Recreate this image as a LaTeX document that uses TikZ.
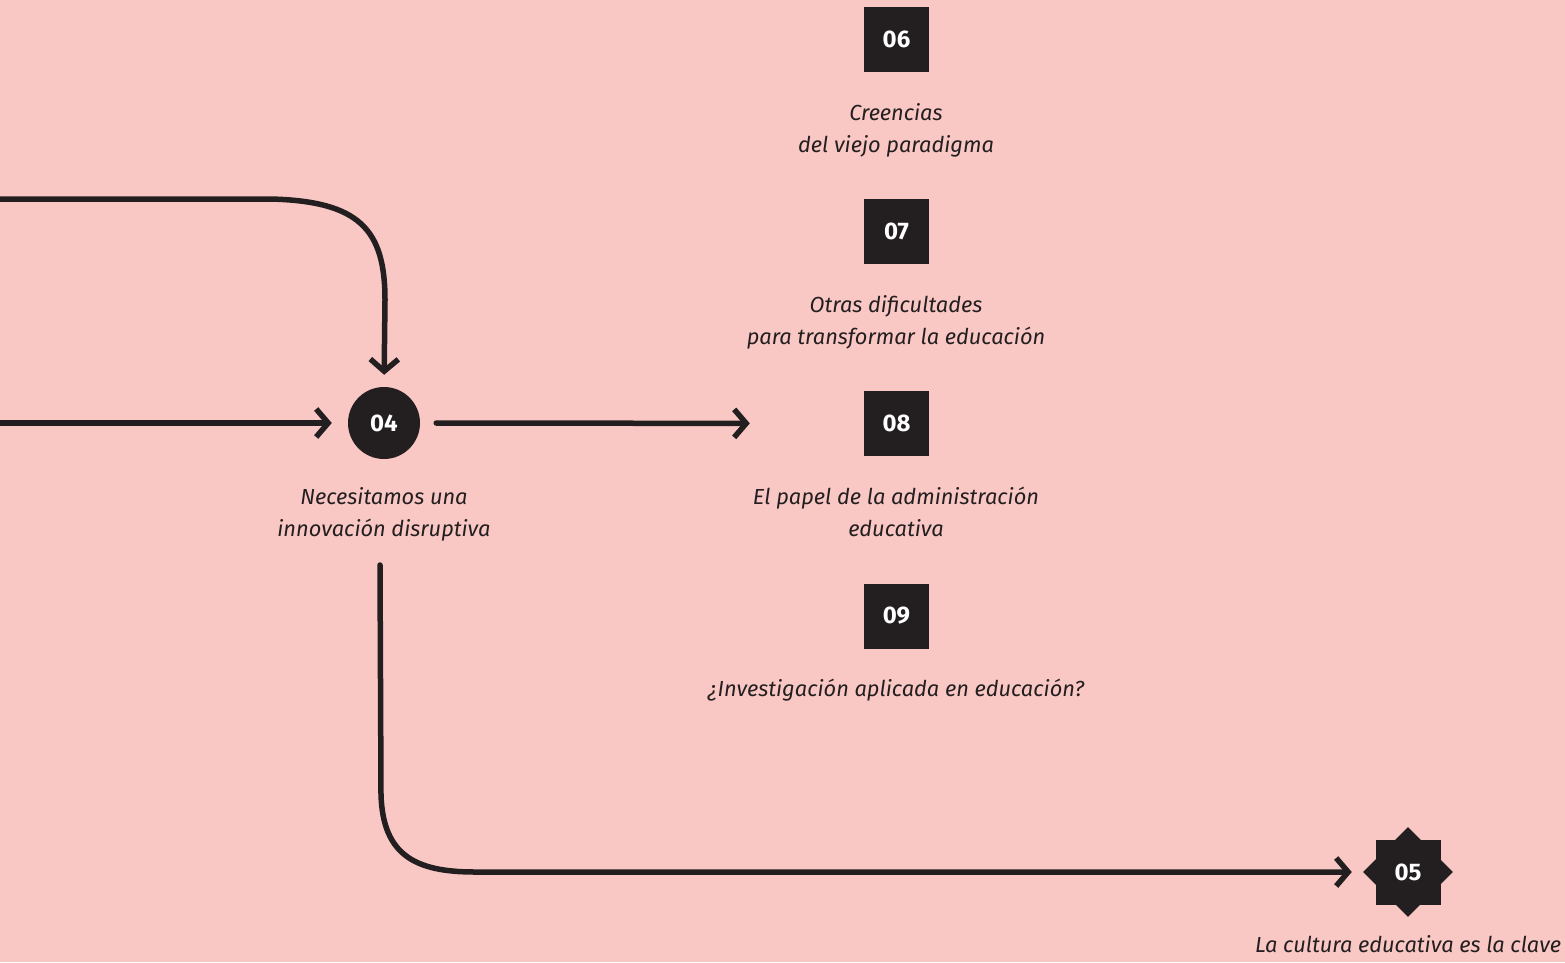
\documentclass[tikz,border=0pt]{standalone}
\usepackage{fontspec}
\setmainfont{Fira Sans}
\usetikzlibrary{arrows.meta,shapes.geometric}
\definecolor{bg}{HTML}{FAC8C4}
\definecolor{ink}{HTML}{231F20}
\begin{document}
\begin{tikzpicture}[x=1pt,y=-1pt,
  numbox/.style={fill=ink,text=white,minimum size=65pt,inner sep=0pt,font=\fontsize{24}{26}\selectfont\bfseries},
  numcirc/.style={circle,fill=ink,text=white,minimum size=72pt,inner sep=0pt,font=\fontsize{24}{26}\selectfont\bfseries},
  lbl/.style={text=ink,align=center,inner sep=0pt,font=\fontsize{21.8}{32}\selectfont\itshape},
  flow/.style={draw=ink,line width=5.5pt,line cap=round,line join=round,-{Straight Barb[length=12pt,width=28pt,line width=5.5pt]}}
]
\fill[bg] (0,0) rectangle (1565,962);
\useasboundingbox (0,0) rectangle (1565,962);

% numbered boxes
\node[numbox] (n06) at (896.5,39.5) {06};
\node[lbl] (l06) at (896,130) {Creencias\\del viejo paradigma};
\node[numbox] (n07) at (896.5,231.5) {07};
\node[lbl] (l07) at (896,322) {Otras dificultades\\para transformar la educación};
\node[numbox] (n08) at (896.5,423.5) {08};
\node[lbl] (l08) at (896,512) {El papel de la administración\\educativa};
\node[numbox] (n09) at (896.5,616) {09};
\node[lbl] (l09) at (896,690) {¿Investigación aplicada en educación?};

% 04 circle
\node[numcirc] (n04) at (384,423) {04};
\node[lbl] (l04) at (384,514) {Necesitamos una\\innovación disruptiva};

% 05 star
\node[diamond,fill=ink,minimum width=90pt,minimum height=90pt,inner sep=0pt] (d05) at (1408,872) {};
\node[numbox] (n05) at (1408,872) {05};
\node[lbl] (l05) at (1408,944) {La cultura educativa es la clave};

% connectors
\coordinate (s1) at (0,199);
\coordinate (s2) at (0,423);
\coordinate (s3) at (380,565);
\draw[flow,shorten >=12pt] (s1) -- (270,199) .. controls (360,201) and (385,230) .. (385,300) -- (n04.north);
\draw[flow,shorten >=16pt] (s2) -- (n04.west);
\draw[flow,shorten <=16pt,shorten >=114pt] (n04.east) -- (n08.west);
\draw[flow,shorten >=11pt] (s3) -- (381,795) .. controls (383,855) and (415,872) .. (475,872) -- (d05.west);
\end{tikzpicture}
\end{document}
